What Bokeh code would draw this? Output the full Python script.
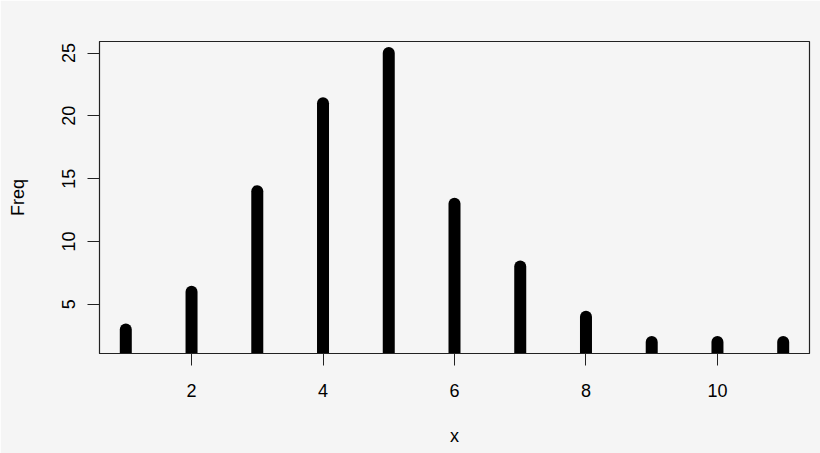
from bokeh.plotting import figure
from bokeh.models import Range1d, FixedTicker, ColumnDataSource
from bokeh.embed import file_html
from bokeh.resources import INLINE

x_vals = [1, 2, 3, 4, 5, 6, 7, 8, 9, 10, 11]
freq = [3, 6, 14, 21, 25, 13, 8, 4, 2, 2, 2]
x_ticks = [2, 4, 6, 8, 10]
y_ticks = [5, 10, 15, 20, 25]

bg = "#f5f5f5"
FONT = "Liberation Sans"

p = figure(width=820, height=453, output_backend="svg", toolbar_location=None,
           x_range=Range1d(0.6, 11.4), y_range=Range1d(1.08, 25.92),
           min_border_left=99, min_border_right=11, min_border_top=41, min_border_bottom=100,
           background_fill_color=bg, border_fill_color=bg)
p.grid.visible = False
p.outline_line_color = "#222222"
p.outline_line_width = 1.2

src = ColumnDataSource(dict(x=x_vals, y=freq, y0=[0] * len(x_vals)))
p.segment(x0="x", y0="y0", x1="x", y1="y", source=src, line_width=12,
          line_color="black", line_cap="round")

for ax in (p.xaxis[0], p.yaxis[0]):
    ax.major_tick_out = 12
    ax.major_tick_in = 0
    ax.minor_tick_line_color = None
    ax.axis_line_color = "#222222"
    ax.major_tick_line_color = "#222222"
    ax.major_label_text_font = FONT
    ax.major_label_text_font_size = "18px"
    ax.major_label_text_color = "black"
    ax.axis_label_text_font = FONT
    ax.axis_label_text_font_size = "18px"
    ax.axis_label_text_font_style = "normal"
    ax.axis_label_text_color = "black"

p.xaxis.ticker = FixedTicker(ticks=x_ticks)
p.yaxis.ticker = FixedTicker(ticks=y_ticks)
p.xaxis.axis_label = "x"
p.yaxis.axis_label = "Freq"
p.yaxis.major_label_orientation = "vertical"
p.xaxis.major_label_standoff = 18
p.yaxis.major_label_standoff = 12
p.xaxis.axis_label_standoff = 26
p.yaxis.axis_label_standoff = 32

open("out.html", "w").write(file_html(p, INLINE))
